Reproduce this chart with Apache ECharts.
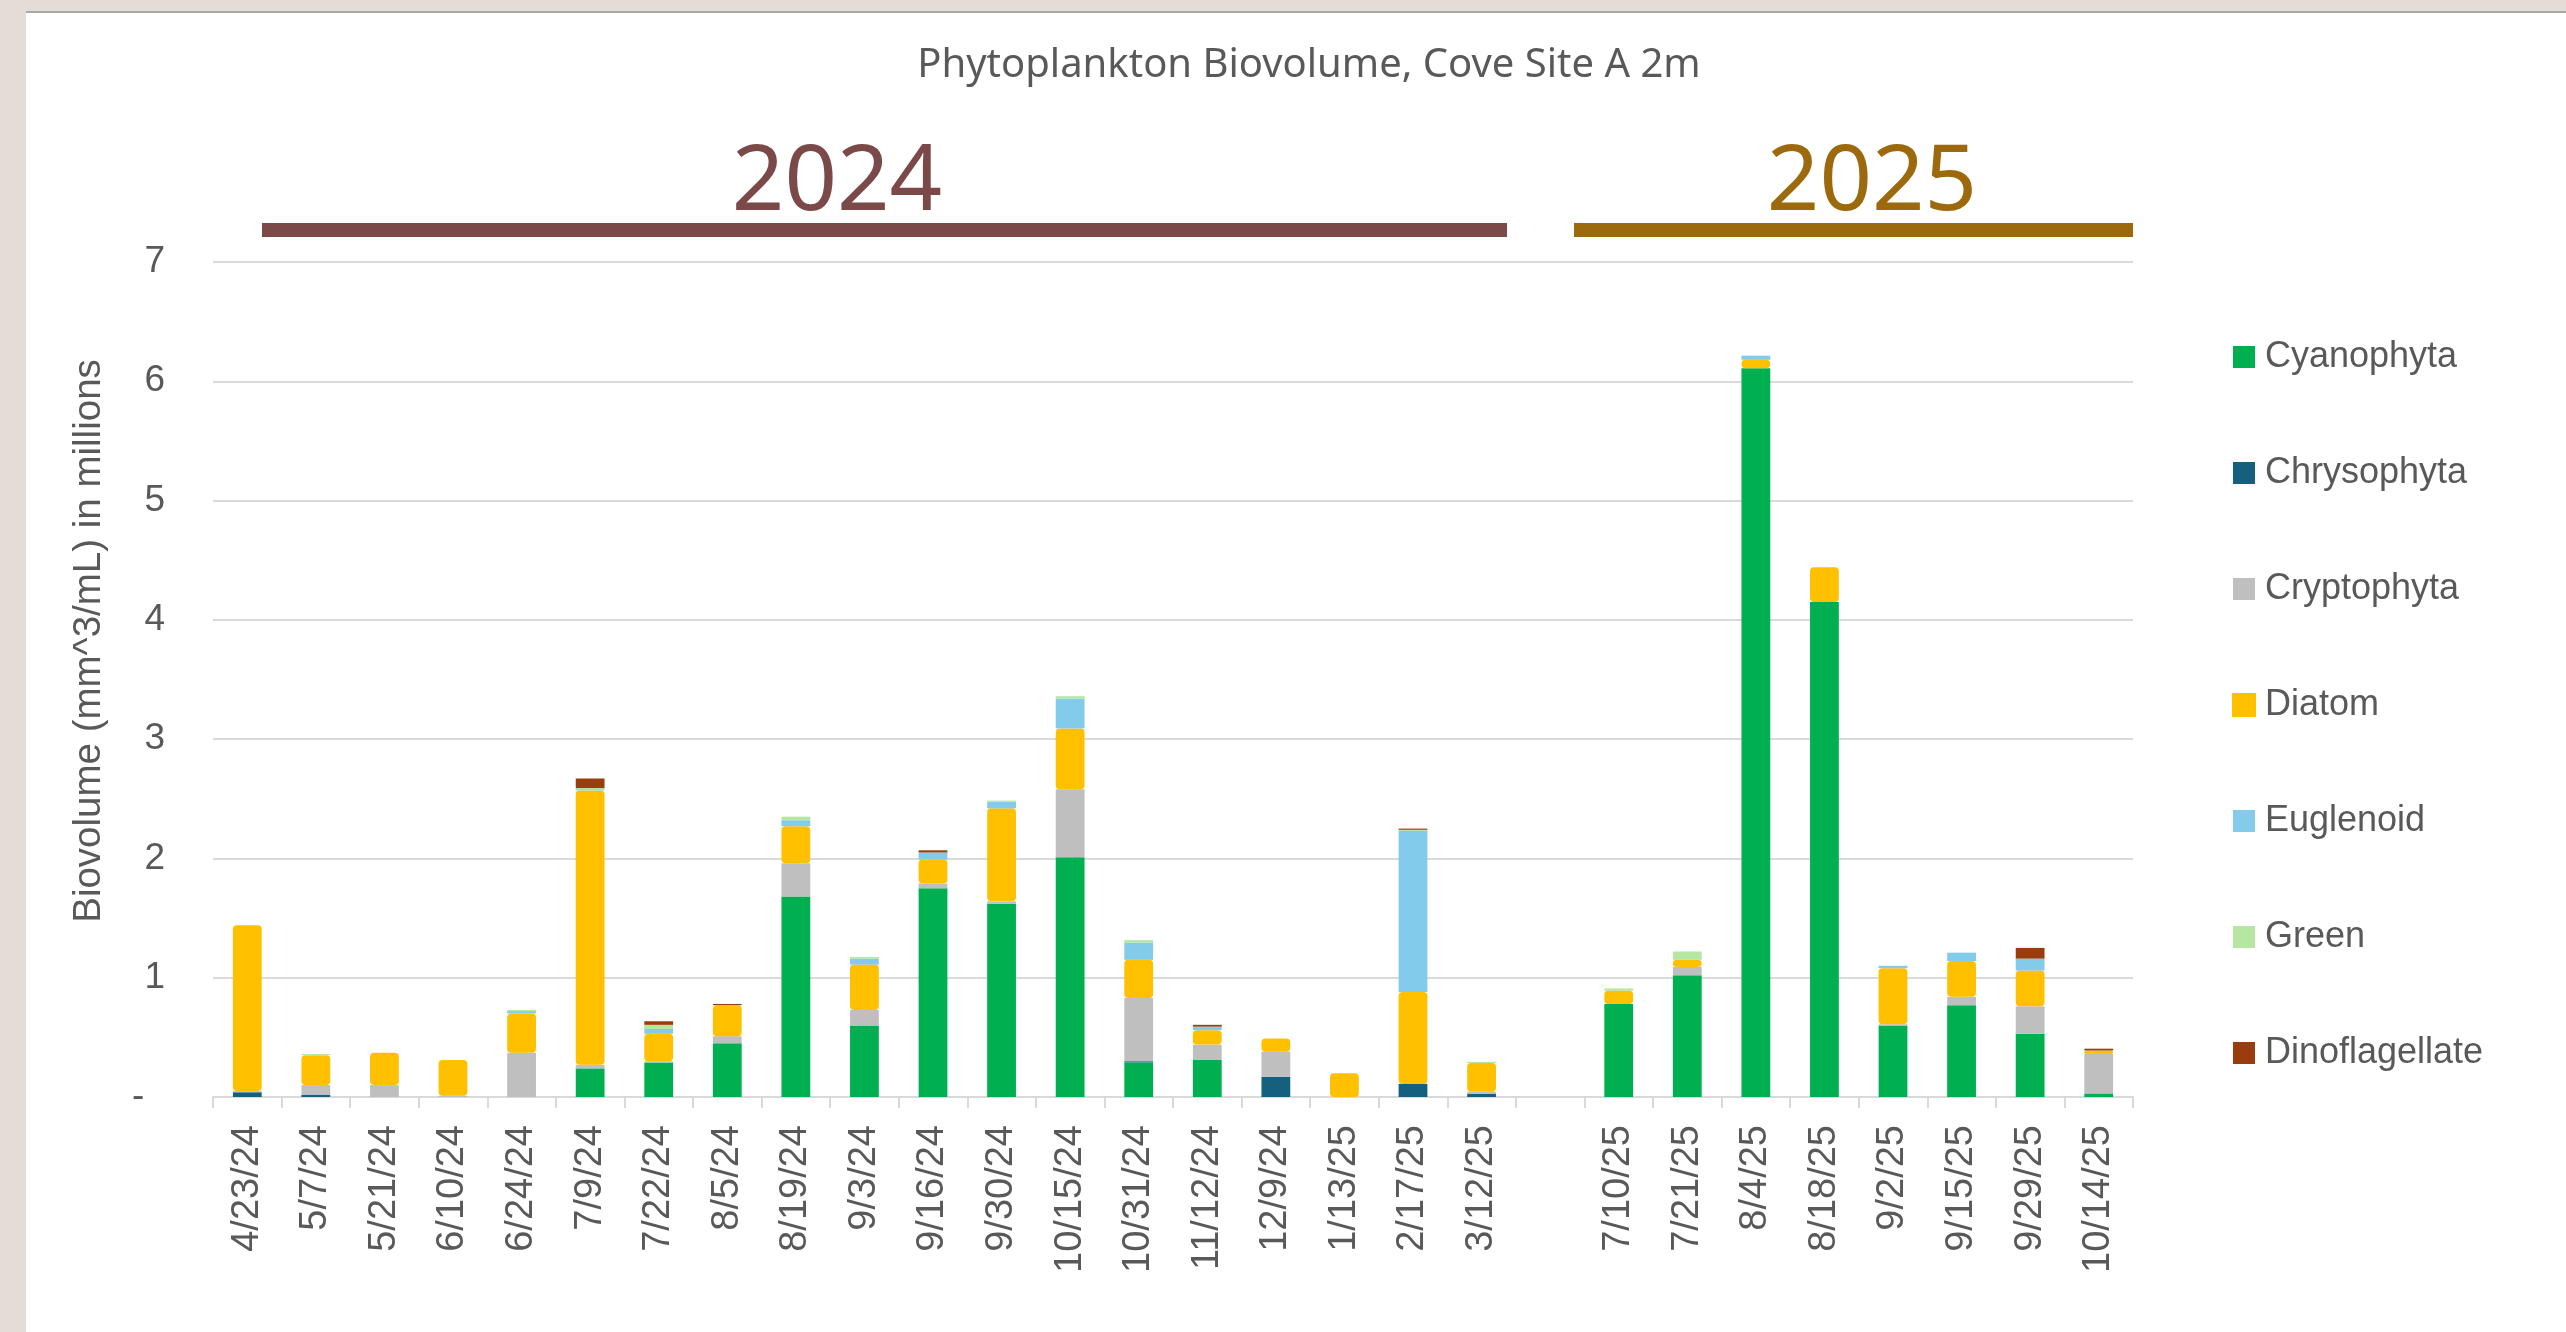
<!DOCTYPE html>
<html><head><meta charset="utf-8">
<script src="https://cdn.jsdelivr.net/npm/echarts@6/dist/echarts.min.js"></script>
<style>
html,body{margin:0;padding:0;background:#E4DCD6;width:2566px;height:1332px;overflow:hidden}
#paper{position:absolute;left:26px;top:11px;width:2540px;height:1321px;background:#fff;border-top:2px solid #ABA7A4;}
#chart{position:absolute;left:0;top:0;width:2566px;height:1332px}
</style></head><body><div id="paper"></div><div id="chart"></div>
<script>
const categories = ['4/23/24','5/7/24','5/21/24','6/10/24','6/24/24','7/9/24','7/22/24','8/5/24','8/19/24','9/3/24','9/16/24','9/30/24','10/15/24','10/31/24','11/12/24','12/9/24','1/13/25','2/17/25','3/12/25','','7/10/25','7/21/25','8/4/25','8/18/25','9/2/25','9/15/25','9/29/25','10/14/25'];
const cyanophyta     = [0,0,0,0,0,0.24,0.29,0.45,1.68,0.60,1.75,1.62,2.01,0.29,0.31,0,0,0,0,null,0.78,1.02,6.11,4.15,0.60,0.77,0.53,0.03];
const chrysophyta    = [0.04,0.02,0,0,0,0,0,0,0,0,0,0,0,0.01,0,0.17,0,0.11,0.025,null,0,0,0,0,0,0,0,0];
const cryptophyta    = [0.01,0.08,0.10,0.01,0.37,0.03,0.01,0.06,0.28,0.13,0.04,0.02,0.57,0.53,0.13,0.21,0,0,0.02,null,0,0.07,0,0,0.01,0.07,0.23,0.33];
const diatom         = [1.39,0.25,0.27,0.30,0.33,2.30,0.23,0.26,0.31,0.38,0.20,0.78,0.51,0.32,0.12,0.11,0.20,0.77,0.24,null,0.11,0.06,0.07,0.29,0.47,0.30,0.30,0.03];
const euglenoid      = [0,0,0,0,0.02,0.01,0.04,0,0.05,0.05,0.06,0.055,0.25,0.145,0.03,0,0,1.35,0,null,0,0,0.035,0,0.02,0.07,0.10,0];
const green          = [0,0.01,0,0,0.01,0.01,0.035,0,0.03,0.014,0,0.01,0.02,0.02,0,0,0,0.01,0.01,null,0.02,0.07,0,0,0,0,0,0];
const dinoflagellate = [0,0,0,0,0,0.08,0.03,0.01,0,0,0.018,0,0,0,0.015,0,0,0.01,0,null,0,0,0,0,0,0,0.09,0.015];
const yTicks = [0,1,2,3,4,5,6,7];
const seriesNames = ['Cyanophyta','Chrysophyta','Cryptophyta','Diatom','Euglenoid','Green','Dinoflagellate'];
const seriesData = [cyanophyta, chrysophyta, cryptophyta, diatom, euglenoid, green, dinoflagellate];
const colors = ['#00B050','#15607F','#BFBFBF','#FFC000','#83CBEB','#B5E6A2','#993D0C'];

const axisFont = 'Liberation Sans, Arial, sans-serif';
const chart = echarts.init(document.getElementById('chart'), null, {renderer:'canvas'});
const option = {
  animation: false,
  backgroundColor: 'transparent',
  color: colors,
  grid: {left: 213, right: 433, top: 262, bottom: 235, containLabel: false},
  legend: {
    orient: 'vertical', left: 2232, top: 339, padding: 0,
    itemWidth: 22, itemHeight: 22, itemGap: 80,
    icon: 'rect',
    textStyle: {fontFamily: axisFont, fontSize: 36, color: '#595959', lineHeight: 36, padding: [0,0,0,5]},
    data: seriesNames
  },
  xAxis: {
    type: 'category', data: categories,
    axisLine: {lineStyle: {color: '#D9D9D9', width: 2}},
    axisTick: {show: true, length: 11, interval: 0, lineStyle: {color: '#D9D9D9', width: 2}},
    axisLabel: {interval: 0, rotate: 90, margin: 28, fontFamily: axisFont, fontSize: 38, color: '#595959'},
    splitLine: {show: false}
  },
  yAxis: {
    type: 'value', min: yTicks[0], max: yTicks[yTicks.length-1], interval: 1,
    axisLine: {show: false}, axisTick: {show: false},
    axisLabel: {margin: 48, fontFamily: axisFont, fontSize: 37, color: '#595959',
      formatter: v => v === 0 ? '-  ' : String(v)},
    splitLine: {lineStyle: {color: '#D9D9D9', width: 2}}
  },
  series: seriesNames.map((n, i) => ({
    name: n, type: 'bar', stack: 'total', barWidth: '42%',
    data: seriesData[i],
    itemStyle: n === 'Diatom' ? {color: colors[i], borderColor: colors[i], borderWidth: 2, borderRadius: 3} : {color: colors[i]},
    emphasis: {disabled: true}
  })),
  graphic: [
    {type: 'text', x: 1309, y: 66, style: {text: 'Phytoplankton Biovolume, Cove Site A 2m', font: '40px "Noto Sans", sans-serif', fill: '#595959', textAlign: 'center', textVerticalAlign: 'middle'}},
    {type: 'text', x: 89, y: 641, rotation: Math.PI/2, style: {text: 'Biovolume (mm^3/mL) in millions', font: '38.5px "Liberation Sans", Arial, sans-serif', fill: '#595959', textAlign: 'center', textVerticalAlign: 'middle'}},
    {type: 'text', x: 837, y: 184, style: {text: '2024', font: '92px "Noto Sans", sans-serif', fill: '#7C4949', textAlign: 'center', textVerticalAlign: 'middle'}},
    {type: 'text', x: 1872, y: 184, style: {text: '2025', font: '92px "Noto Sans", sans-serif', fill: '#9C6A0C', textAlign: 'center', textVerticalAlign: 'middle'}},
    {type: 'rect', shape: {x: 262, y: 223, width: 1245, height: 14}, style: {fill: '#7C4949'}},
    {type: 'rect', shape: {x: 1574, y: 223, width: 559, height: 14}, style: {fill: '#9C6A0C'}}
  ]
};
chart.setOption(option);
</script></body></html>
